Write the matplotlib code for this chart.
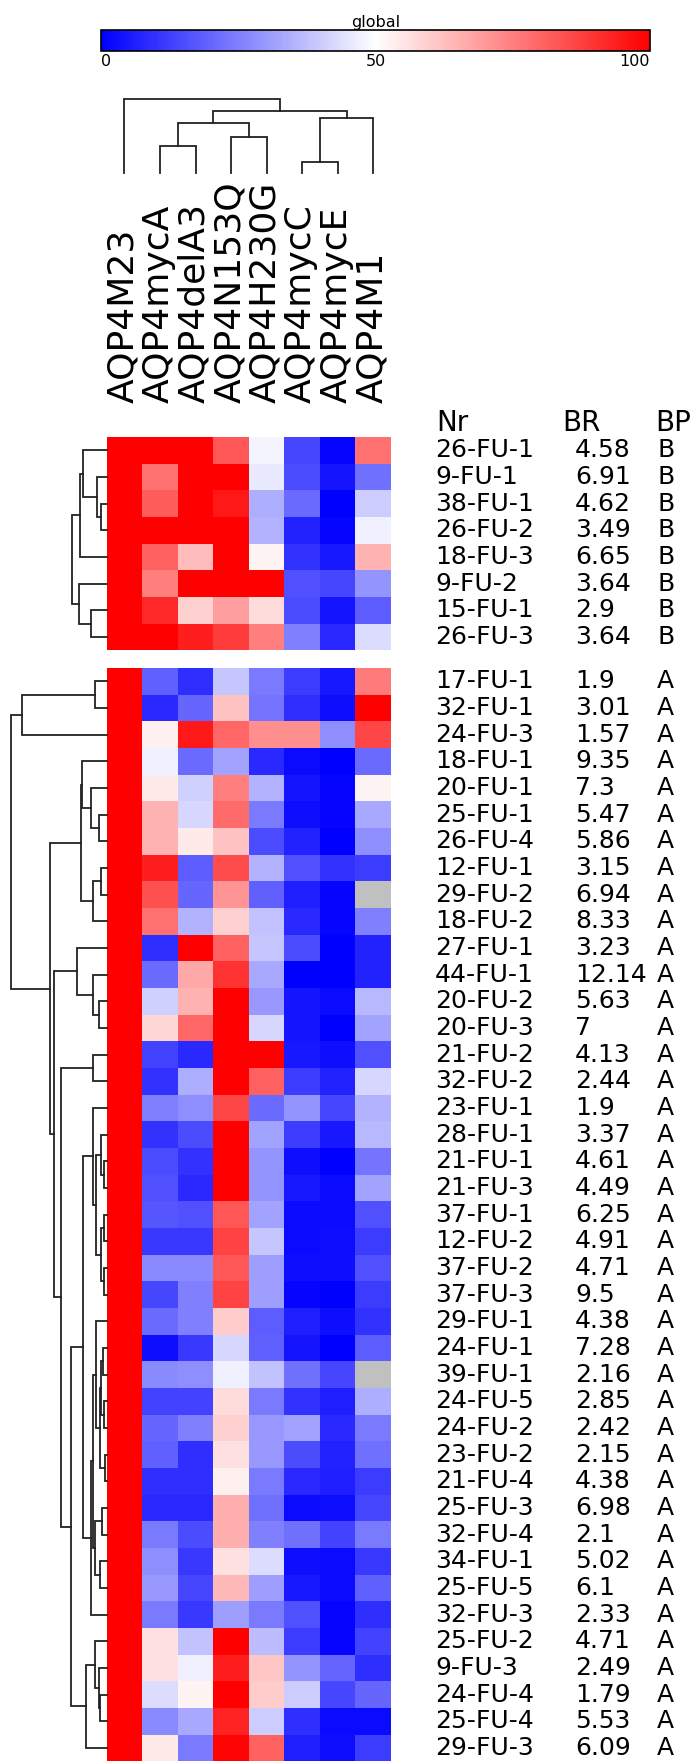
import numpy as np
import matplotlib as mpl
import matplotlib.pyplot as plt

W, H = 698, 1762

columns = ['AQP4M23', 'AQP4mycA', 'AQP4delA3', 'AQP4N153Q',
           'AQP4H230G', 'AQP4mycC', 'AQP4mycE', 'AQP4M1']

# group B (upper block)
top_nr = ['26-FU-1', '9-FU-1', '38-FU-1', '26-FU-2', '18-FU-3', '9-FU-2', '15-FU-1', '26-FU-3']
top_br = ['4.58', '6.91', '4.62', '3.49', '6.65', '3.64', '2.9', '3.64']
top_bp = ['B'] * 8
top_vals = [
    [100, 100, 100, 83, 48, 14, 1, 78],
    [100, 78, 100, 100, 46, 15, 4, 22],
    [100, 82, 100, 95, 34, 21, 0, 40],
    [100, 100, 100, 100, 35, 7, 1, 47],
    [100, 81, 63, 100, 52, 10, 5, 65],
    [100, 75, 100, 100, 100, 16, 14, 29],
    [100, 92, 59, 69, 57, 15, 4, 18],
    [100, 100, 94, 88, 75, 25, 8, 43],
]

# group A (lower block)
bot_nr = ['17-FU-1', '32-FU-1', '24-FU-3', '18-FU-1', '20-FU-1', '25-FU-1', '26-FU-4',
          '12-FU-1', '29-FU-2', '18-FU-2', '27-FU-1', '44-FU-1', '20-FU-2', '20-FU-3',
          '21-FU-2', '32-FU-2', '23-FU-1', '28-FU-1', '21-FU-1', '21-FU-3', '37-FU-1',
          '12-FU-2', '37-FU-2', '37-FU-3', '29-FU-1', '24-FU-1', '39-FU-1', '24-FU-5',
          '24-FU-2', '23-FU-2', '21-FU-4', '25-FU-3', '32-FU-4', '34-FU-1', '25-FU-5',
          '32-FU-3', '25-FU-2', '9-FU-3', '24-FU-4', '25-FU-4', '29-FU-3']
bot_br = ['1.9', '3.01', '1.57', '9.35', '7.3', '5.47', '5.86', '3.15', '6.94', '8.33',
          '3.23', '12.14', '5.63', '7', '4.13', '2.44', '1.9', '3.37', '4.61', '4.49',
          '6.25', '4.91', '4.71', '9.5', '4.38', '7.28', '2.16', '2.85', '2.42', '2.15',
          '4.38', '6.98', '2.1', '5.02', '6.1', '2.33', '4.71', '2.49', '1.79', '5.53', '6.09']
bot_bp = ['A'] * 41
nan = np.nan
bot_vals = [
    [100, 19, 9, 39, 24, 12, 5, 76],
    [100, 8, 20, 62, 23, 9, 3, 100],
    [100, 53, 95, 80, 72, 72, 28, 86],
    [100, 47, 21, 32, 8, 2, 0, 21],
    [100, 54, 41, 75, 35, 4, 1, 52],
    [100, 65, 42, 79, 24, 3, 1, 33],
    [100, 65, 54, 62, 15, 7, 0, 28],
    [100, 94, 18, 85, 35, 16, 10, 12],
    [100, 84, 20, 71, 19, 6, 1, nan],
    [100, 78, 35, 59, 38, 8, 1, 25],
    [100, 9, 100, 81, 39, 15, 0, 7],
    [100, 21, 67, 90, 33, 0, 0, 7],
    [100, 41, 65, 100, 30, 4, 2, 36],
    [100, 58, 80, 100, 42, 4, 0, 32],
    [100, 13, 8, 100, 100, 5, 3, 16],
    [100, 10, 34, 100, 81, 12, 7, 42],
    [100, 25, 28, 86, 21, 29, 14, 35],
    [100, 10, 15, 100, 32, 12, 5, 36],
    [100, 15, 10, 100, 29, 3, 0, 23],
    [100, 16, 8, 100, 29, 5, 2, 32],
    [100, 17, 16, 83, 32, 2, 2, 16],
    [100, 11, 11, 87, 39, 2, 3, 12],
    [100, 27, 27, 83, 31, 3, 3, 16],
    [100, 14, 25, 87, 31, 1, 0, 12],
    [100, 21, 25, 60, 18, 6, 3, 10],
    [100, 3, 11, 42, 19, 4, 0, 18],
    [100, 27, 28, 47, 38, 22, 14, nan],
    [100, 13, 13, 57, 24, 10, 6, 34],
    [100, 20, 25, 59, 30, 32, 8, 24],
    [100, 19, 9, 56, 30, 15, 7, 22],
    [100, 9, 9, 53, 24, 8, 6, 12],
    [100, 8, 8, 66, 22, 2, 3, 14],
    [100, 24, 15, 66, 25, 22, 13, 24],
    [100, 28, 11, 56, 43, 3, 2, 11],
    [100, 30, 14, 64, 31, 5, 2, 19],
    [100, 24, 11, 31, 24, 16, 1, 9],
    [100, 56, 38, 100, 37, 12, 1, 13],
    [100, 56, 47, 94, 61, 29, 20, 9],
    [100, 43, 52, 100, 60, 40, 14, 20],
    [100, 27, 33, 93, 40, 9, 2, 2],
    [100, 54, 24, 99, 81, 6, 3, 12],
]

# linkage: (node, child, child, distance)
col_links = [
    ('c1', 1, 2, 26.7), ('c2', 3, 4, 35.7), ('c3', 5, 6, 10.7),
    ('c4', 'c1', 'c2', 50), ('c5', 'c3', 7, 55), ('c6', 'c4', 'c5', 62.3),
    ('c7', 0, 'c6', 74.3),
]
top_links = [
    ('t1', 2, 3, 6), ('t2', 1, 't1', 10), ('t3', 0, 't2', 24), ('t4', 't3', 4, 26.7),
    ('t5', 6, 7, 16), ('t6', 5, 't5', 27.7), ('t7', 't4', 't6', 35),
]
bot_links = [
    ('a', 0, 1, 12), ('b', 'a', 2, 84.7),
    ('c', 5, 6, 8), ('d', 4, 'c', 15.3), ('e', 3, 'd', 24.7),
    ('f', 7, 8, 5.3), ('g', 'f', 9, 13.7), ('hh', 'e', 'g', 26),
    ('i1', 12, 13, 8), ('i2', 11, 'i1', 13.7), ('i3', 10, 'i2', 29.7),
    ('j', 14, 15, 13.7),
    ('k1', 18, 19, 3), ('k2', 17, 'k1', 5.3), ('k3', 20, 21, 2.5), ('k4', 22, 23, 2.5),
    ('k5', 'k3', 'k4', 5.3), ('k6', 'k2', 'k5', 10.3), ('k7', 16, 'k6', 13.7),
    ('l1', 25, 26, 4), ('l2', 27, 28, 2.5), ('l3', 'l1', 'l2', 6), ('l4', 29, 30, 2),
    ('l5', 'l3', 'l4', 7), ('l6', 24, 'l5', 10.3),
    ('m1', 31, 32, 4.7), ('m2', 33, 34, 6.3), ('m3', 'm1', 'm2', 12),
    ('m4', 'l6', 'm3', 13.5), ('m5', 'm4', 35, 16),
    ('n1', 'k7', 'm5', 23.7),
    ('o1', 38, 39, 7), ('o2', 37, 'o1', 8), ('o3', 36, 'o2', 12), ('o4', 'o3', 40, 21),
    ('p1', 'n1', 'o4', 35.3), ('p2', 'j', 'p1', 46), ('p3', 'i3', 'p2', 53),
    ('p4', 'hh', 'p3', 57), ('root', 'b', 'p4', 95.3),
]

fig = plt.figure(figsize=(W / 100, H / 100), dpi=100)


def box(x0, y0, x1, y1):
    ax = fig.add_axes([x0 / W, 1 - y1 / H, (x1 - x0) / W, (y1 - y0) / H])
    ax.axis('off')
    return ax


def draw_tree(ax, links, n, side):
    pos = {i: float(i) for i in range(n)}
    hgt = {i: 0.0 for i in range(n)}
    for name, p, q, h in links:
        ps = [pos[p], pos[p], pos[q], pos[q]]
        hs = [hgt[p], h, h, hgt[q]]
        if side == 'left':
            ax.plot(hs, ps, color='#222222', lw=1.3, clip_on=False, solid_joinstyle='miter')
        else:
            ax.plot(ps, hs, color='#222222', lw=1.3, clip_on=False, solid_joinstyle='miter')
        pos[name] = (pos[p] + pos[q]) / 2
        hgt[name] = h


cmap = mpl.colormaps['bwr'].copy()
cmap.set_bad('#c0c0c0')

hx0, hx1 = 106.7, 391.0
blocks = [(top_vals, top_nr, top_br, top_bp, top_links, 437.0),
          (bot_vals, bot_nr, bot_br, bot_bp, bot_links, 668.0)]
row_h = 26.67
for vals, nr, br, bp, links, y0 in blocks:
    n = len(vals)
    y1 = y0 + n * row_h
    ax = box(hx0, y0, hx1, y1)
    ax.pcolormesh(np.ma.masked_invalid(np.array(vals, dtype=float)), cmap=cmap, vmin=0, vmax=100)
    ax.set_xlim(0, 8)
    ax.set_ylim(n, 0)
    dax = box(0, y0, hx0, y1)
    draw_tree(dax, links, n, 'left')
    dax.set_xlim(hx0, 0)
    dax.set_ylim(n - 0.5, -0.5)
    for i in range(n):
        yc = 1 - (y0 + (i + 0.5) * row_h) / H
        fig.text(435 / W, yc, nr[i], fontsize=18, va='center', ha='left')
        fig.text(575 / W, yc, br[i], fontsize=18, va='center', ha='left')
        fig.text(657 / W, yc, bp[i], fontsize=18, va='center', ha='left')

# column dendrogram
cax_d = box(hx0, 90, hx1, 173)
draw_tree(cax_d, col_links, 8, 'top')
cax_d.set_xlim(-0.5, 7.5)
cax_d.set_ylim(0, 83)

cw = (hx1 - hx0) / 8
for j, name in enumerate(columns):
    xc = hx0 + (j + 0.5) * cw + 9
    fig.text(xc / W, 1 - 403 / H, name, fontsize=26, rotation=90,
             rotation_mode='anchor', ha='left', va='baseline')

# header
for x, t in [(436, 'Nr'), (562, 'BR'), (655, 'BP')]:
    fig.text(x / W, 1 - 431 / H, t, fontsize=20, ha='left', va='baseline')

# colour scale
cbax = fig.add_axes([101 / W, 1 - 51 / H, 549 / W, 21 / H])
cb = fig.colorbar(mpl.cm.ScalarMappable(norm=mpl.colors.Normalize(0, 100), cmap=cmap),
                  cax=cbax, orientation='horizontal')
cb.set_ticks([0, 50, 100])
cb.ax.tick_params(length=0, labelsize=11.5, pad=2)
for lab, ha in zip(cb.ax.get_xticklabels(), ['left', 'center', 'right']):
    lab.set_ha(ha)
cb.outline.set_linewidth(1.2)
cb.ax.set_title('global', fontsize=11.5, pad=2)

fig.savefig('out.png', dpi=100)
